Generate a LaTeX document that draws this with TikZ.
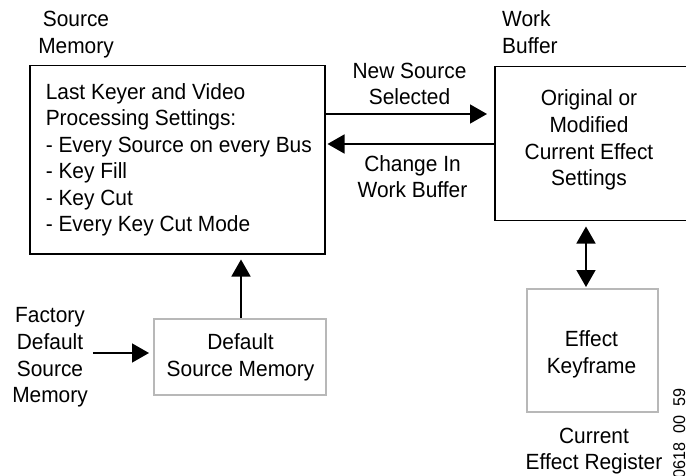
\documentclass[tikz,border=0pt]{standalone}
\usepackage{fontspec}
\setmainfont{Liberation Sans}[FakeStretch=0.95]
\usetikzlibrary{arrows.meta,calc}
\definecolor{boxgray}{HTML}{B8B8B8}
\begin{document}
\begin{tikzpicture}[x=1pt,y=-1pt,
  txt/.style={font=\fontsize{22}{26.6}\selectfont, inner sep=0pt, align=center, anchor=base},
  txtl/.style={font=\fontsize{22}{26.6}\selectfont, inner sep=0pt, align=left, anchor=base west},
  blackbox/.style={draw=black, line width=1.5pt, inner sep=0pt, anchor=north west},
  graybox/.style={draw=boxgray, line width=1.5pt, inner sep=0pt, anchor=north west},
  tip/.tip={Triangle[length=17pt,width=19pt]},
  arr/.style={line width=1.6pt, -tip},
  darr/.style={line width=1.6pt, tip-tip}]
\clip (0,0) rectangle (686,476);
% boxes
\node[blackbox, minimum width=295pt, minimum height=188pt] (sm) at (29,65) {};
\node[blackbox, minimum width=206pt, minimum height=154pt] (wb) at (494,66) {};
\node[graybox, minimum width=172pt, minimum height=76pt] (dsm) at (153,318) {};
\node[graybox, minimum width=131pt, minimum height=123pt] (kf) at (526,288) {};
% labels (anchor = baseline of last line)
\node[txt] (smlab) at (76,53.4) {Source\\Memory};
\node[txtl] (wblab) at (502,53.4) {Work\\Buffer};
\node[txtl] (smtext) at (45.6,232) {Last Keyer and Video\\Processing Settings:\\- Every Source on every Bus\\- Key Fill\\- Key Cut\\- Every Key Cut Mode};
\node[txt] (wbtext) at (589,185.8) {Original or\\Modified\\Current Effect\\Settings};
\node[txt] (nslab) at (409.5,105) {New Source\\Selected};
\node[txt] (cwlab) at (412.5,198) {Change In\\Work Buffer};
\node[txt] (dsmtext) at (240.5,376) {Default\\Source Memory};
\node[txt] (factext) at (50,402.6) {Factory\\Default\\Source\\Memory};
\node[txt] (kftext) at (591.5,373) {Effect\\Keyframe};
\node[txt] (cerlab) at (594,469.6) {Current\\Effect Register};
\node[font=\fontsize{17}{19}\selectfont, inner sep=0pt, rotate=90, anchor=base east] (fig) at (685,388) {0618\_00\_59};
% connectors
\coordinate (ns) at (0,114);
\coordinate (cw) at (0,144);
\coordinate (dx) at (586,0);
\coordinate (ux) at (241,0);
\coordinate (fy) at (0,353);
\draw[arr, shorten >=7pt] (sm.east |- ns) -- (wb.west |- ns);
\draw[arr, shorten >=2pt] (wb.west |- cw) -- (sm.east |- cw);
\draw[darr, shorten <=5pt, shorten >=1pt] (wb.south -| dx) -- (kf.north -| dx);
\draw[arr, shorten >=5pt] (dsm.north -| ux) -- (sm.south -| ux);
\draw[arr, shorten <=5pt, shorten >=4pt] (factext.east |- fy) -- (dsm.west |- fy);
\end{tikzpicture}
\end{document}
